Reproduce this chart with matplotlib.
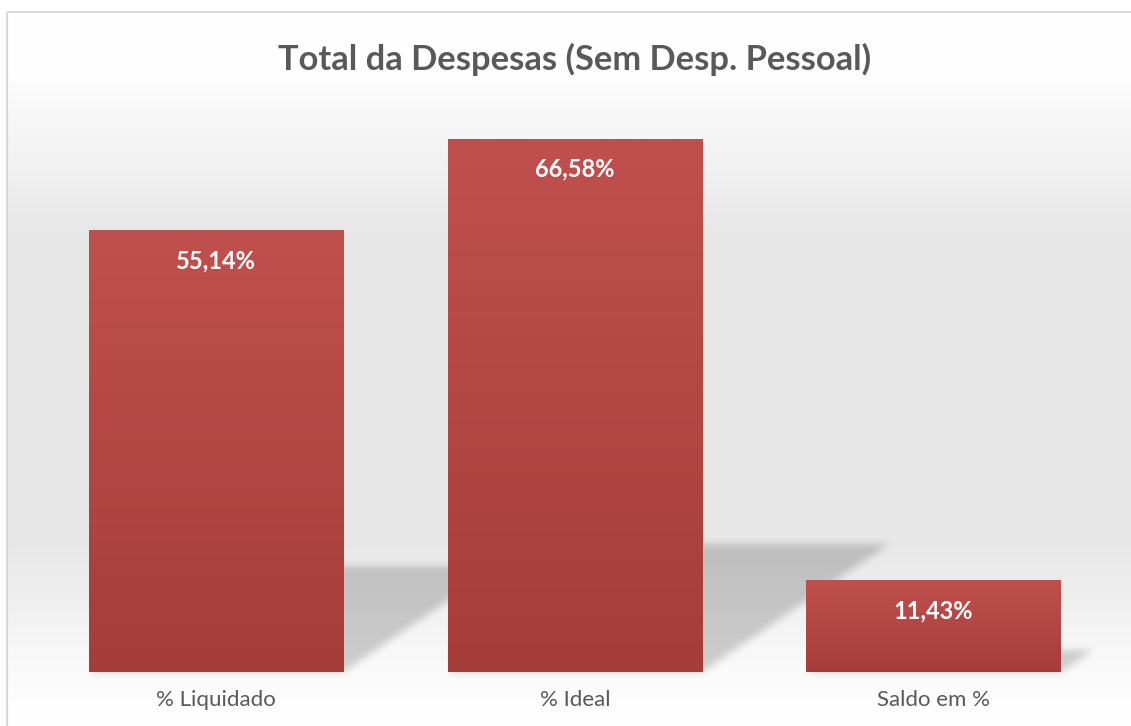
import numpy as np
import matplotlib.pyplot as plt
from matplotlib.path import Path
from matplotlib.patches import Rectangle

# -------------------------------
# Dados
# -------------------------------
categorias = ["% Liquidado", "% Ideal", "Saldo em %"]
valores = [55.14, 66.58, 11.43]
rotulos = ["55,14%", "66,58%", "11,43%"]
titulo = "Total da Despesas (Sem Desp. Pessoal)"

W, H = 1131, 726
fonte = ["Lato", "DejaVu Sans"]
cinza_txt = "#595959"

fig = plt.figure(figsize=(W / 100, H / 100), dpi=100)

# -------------------------------
# Fundo com degrade (estilo Excel)
# -------------------------------
bg = fig.add_axes([0, 0, 1, 1], zorder=0)
bg.set_xlim(0, W)
bg.set_ylim(H, 0)
bg.axis("off")

ys = np.arange(H)
stops_y = [0, 13, 70, 150, 240, 540, 600, 650, 700, H]
stops_v = [255, 255, 254, 243, 231, 231, 239, 248, 253, 254]
g = np.interp(ys, stops_y, stops_v) / 255
fundo = np.repeat(g[:, None], W, axis=1)
fundo[:, :7] = 1
fundo[:12, :] = 1
bg.imshow(np.dstack([fundo] * 3), extent=(0, W, H, 0), aspect="auto",
          interpolation="nearest", zorder=0)
bg.add_patch(Rectangle((7, 12), W + 20, H + 20, fill=False,
                       ec="#D9D9D9", lw=1.5, zorder=3))

# -------------------------------
# Eixo principal
# -------------------------------
ax = fig.add_axes([37 / W, (H - 672) / H, 1076 / W, 560 / H], zorder=1)
ax.patch.set_alpha(0)
x = np.arange(len(categorias))
barras = ax.bar(x, valores, width=0.71, color="none", edgecolor="none")
ax.set_xlim(-0.5, 2.5)
ax.set_ylim(0, 70)

# gradiente das barras
topo = np.array([192, 80, 77]) / 255
base = np.array([165, 61, 59]) / 255
t = np.linspace(0, 1, 256)[:, None]
cor = topo + (base - topo) * t
for b in barras:
    x0, w, h = b.get_x(), b.get_width(), b.get_height()
    ax.imshow(cor[:, None, :], extent=(x0, x0 + w, 0, h), origin="upper",
              aspect="auto", interpolation="bilinear", zorder=2)
ax.set_xlim(-0.5, 2.5)
ax.set_ylim(0, 70)

# -------------------------------
# Sombra em perspectiva (rasterizada + desfoque)
# -------------------------------
yy, xx = np.mgrid[0:H, 0:W]
pts = np.column_stack([xx.ravel() + 0.5, yy.ravel() + 0.5])
mascara = np.zeros(H * W)
for b in barras:
    x0, x1, h = b.get_x(), b.get_x() + b.get_width(), b.get_height()
    dx, sh = h * 0.0078, h * 0.24
    verts = ax.transData.transform([(x0, 0), (x1, 0), (x1 + dx, sh), (x0 + dx, sh)])
    verts[:, 1] = H - verts[:, 1]
    mascara = np.maximum(mascara, Path(verts).contains_points(pts))
mascara = mascara.reshape(H, W)


def desfoque(a, r):
    k = np.ones(2 * r + 1) / (2 * r + 1)
    for eixo in (0, 1):
        a = np.apply_along_axis(lambda m: np.convolve(m, k, mode="same"), eixo, a)
    return a


mascara = desfoque(desfoque(mascara, 4), 4)
sombra = np.zeros((H, W, 4))
sombra[..., 3] = 0.18 * mascara
bg.imshow(sombra, extent=(0, W, H, 0), aspect="auto", interpolation="nearest", zorder=1)

# -------------------------------
# Rotulos
# -------------------------------
for xi, v, r in zip(x, valores, rotulos):
    ax.annotate(r, (xi, v), xytext=(0, -21.6), textcoords="offset points",
                ha="center", va="center", color="white", fontsize=17,
                fontweight="bold", family=fonte, zorder=3)

ax.set_xticks(x, categorias)
ax.tick_params(axis="x", length=0, pad=13, labelsize=16, labelcolor=cinza_txt)
for lbl in ax.get_xticklabels():
    lbl.set_family(fonte)
ax.set_yticks([])
for s in ax.spines.values():
    s.set_visible(False)

fig.text(575 / W, 1 - 70 / H, titulo, ha="center", va="baseline",
         fontsize=24.8, fontweight="bold", color=cinza_txt, family=fonte)

plt.savefig("out.png", dpi=100)
